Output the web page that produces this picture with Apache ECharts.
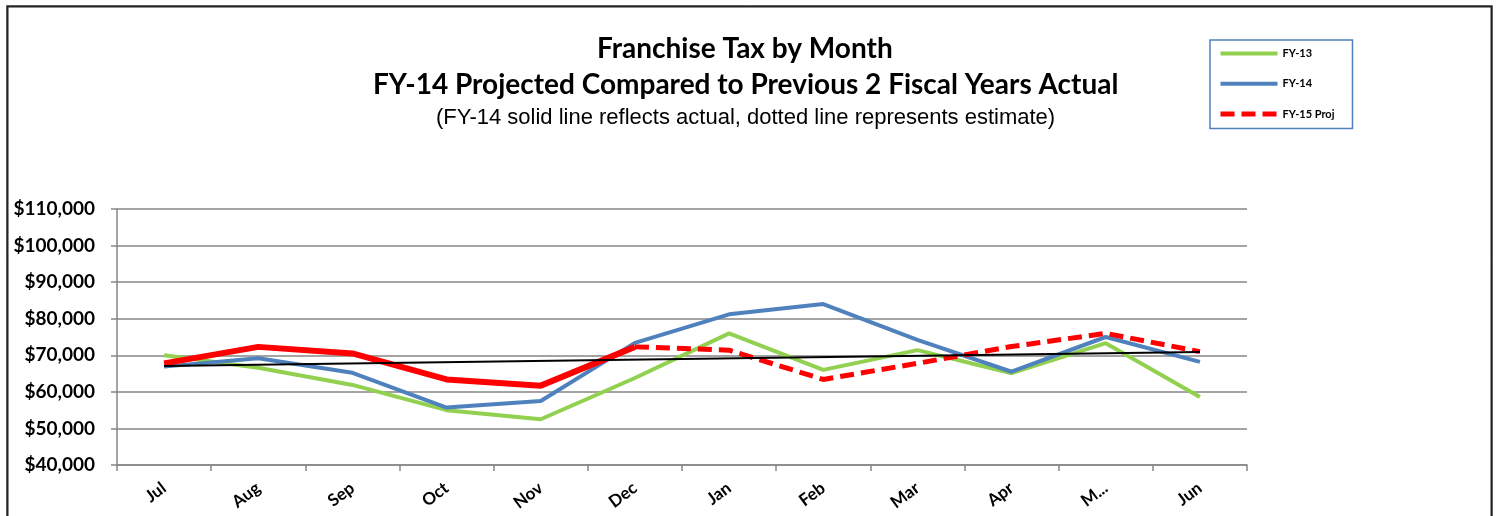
<!DOCTYPE html>
<html>
<head>
<meta charset="utf-8">
<script src="https://cdn.jsdelivr.net/npm/echarts@6/dist/echarts.min.js"></script>
<style>
html,body{margin:0;padding:0;background:#fff;}
#chart{width:1496px;height:516px;}
</style>
</head>
<body>
<div id="chart"></div>
<script>
const months = ['Jul','Aug','Sep','Oct','Nov','Dec','Jan','Feb','Mar','Apr','M...','Jun'];
const yTicks = [40000, 50000, 60000, 70000, 80000, 90000, 100000, 110000];
const fy13 = [70000, 66600, 61900, 55000, 52500, 63800, 76000, 66000, 71400, 65100, 73300, 58600];
const fy14 = [66900, 69200, 65200, 55700, 57500, 73400, 81200, 84000, 74200, 65500, 75000, 68200];
const fy15Actual = [67800, 72300, 70500, 63400, 61700, 72300, null, null, null, null, null, null];
const fy15Proj = [null, null, null, null, null, 72300, 71400, 63400, 67800, 72400, 76000, 71000];
const trend = [67100, null, null, null, null, null, null, null, null, null, null, 70900];

const chart = echarts.init(document.getElementById('chart'), null, {renderer: 'canvas'});
const titleFont = 'Lato, "Open Sans", sans-serif';
chart.setOption({
  animation: false,
  backgroundColor: '#ffffff',
  title: [
    {text: 'Franchise Tax by Month', left: 592, top: 30,
     textStyle: {fontFamily: titleFont, fontWeight: 'bold', fontSize: 28, color: '#000'}},
    {text: 'FY-14 Projected Compared to Previous 2 Fiscal Years Actual', left: 368, top: 66,
     textStyle: {fontFamily: titleFont, fontWeight: 'bold', fontSize: 28, color: '#000'}},
    {text: '(FY-14 solid line reflects actual, dotted line represents estimate)', left: 431, top: 102,
     textStyle: {fontFamily: '"Liberation Sans", Arial, sans-serif', fontWeight: 'normal', fontSize: 22, color: '#000'}}
  ],
  graphic: [
    {type: 'rect', left: 4, top: 3, shape: {x: 0, y: 0, width: 1486, height: 530},
     style: {fill: 'none', stroke: '#999', lineWidth: 1}, silent: true, z: -10},
    {type: 'rect', left: 5, top: 4, shape: {x: 0, y: 0, width: 1484, height: 530},
     style: {fill: 'none', stroke: '#222', lineWidth: 2}, silent: true, z: -10}
  ],
  legend: {
    data: [
      {name: 'FY-13', lineStyle: {width: 4}},
      {name: 'FY-14', lineStyle: {width: 4}},
      {name: 'FY-15 Proj', lineStyle: {width: 5}}
    ],
    orient: 'vertical',
    left: 1210,
    top: 40,
    padding: [8, 18, 9, 8],
    itemWidth: 57,
    itemHeight: 14,
    itemGap: 19,
    itemStyle: {opacity: 0},
    borderColor: '#4F81BD',
    borderWidth: 1.5,
    textStyle: {fontFamily: titleFont, fontWeight: 'bold', fontSize: 11, color: '#000'}
  },
  grid: {left: 117, right: 249, top: 209, bottom: 51, containLabel: false},
  xAxis: {
    type: 'category',
    data: months,
    boundaryGap: true,
    axisLine: {lineStyle: {color: '#868686', width: 1.5}},
    axisTick: {show: true, length: 6, lineStyle: {color: '#868686', width: 1.5}},
    axisLabel: {rotate: 37, margin: 21, fontFamily: titleFont, fontWeight: 'bold', fontSize: 17, color: '#000'},
    splitLine: {show: false}
  },
  yAxis: {
    type: 'value',
    min: yTicks[0],
    max: yTicks[yTicks.length - 1],
    interval: 10000,
    axisLine: {show: true, lineStyle: {color: '#868686', width: 1.5}},
    axisTick: {show: true, length: 6, lineStyle: {color: '#868686', width: 1.5}},
    axisLabel: {margin: 22, fontFamily: titleFont, fontWeight: 'bold', fontSize: 19, color: '#000',
      formatter: v => '$' + v.toLocaleString('en-US')},
    splitLine: {show: true, lineStyle: {color: '#868686', width: 1.5}}
  },
  series: [
    {name: 'FY-13', type: 'line', data: fy13, symbol: 'none',
     lineStyle: {color: '#92D050', width: 4}, itemStyle: {color: '#92D050'}, z: 2},
    {name: 'FY-14', type: 'line', data: fy14, symbol: 'none',
     lineStyle: {color: '#4F81BD', width: 4}, itemStyle: {color: '#4F81BD'}, z: 3},
    {name: 'FY-15 Actual', type: 'line', data: fy15Actual, symbol: 'none',
     lineStyle: {color: '#FF0000', width: 6}, itemStyle: {color: '#FF0000'}, z: 4},
    {name: 'FY-15 Proj', type: 'line', data: fy15Proj, symbol: 'none',
     lineStyle: {color: '#FF0000', width: 5, type: [14, 7]}, itemStyle: {color: '#FF0000'}, z: 4},
    {name: 'Trend', type: 'line', data: trend, symbol: 'none', connectNulls: true,
     lineStyle: {color: '#000000', width: 2}, itemStyle: {color: '#000'}, z: 5}
  ]
});
</script>
</body>
</html>
